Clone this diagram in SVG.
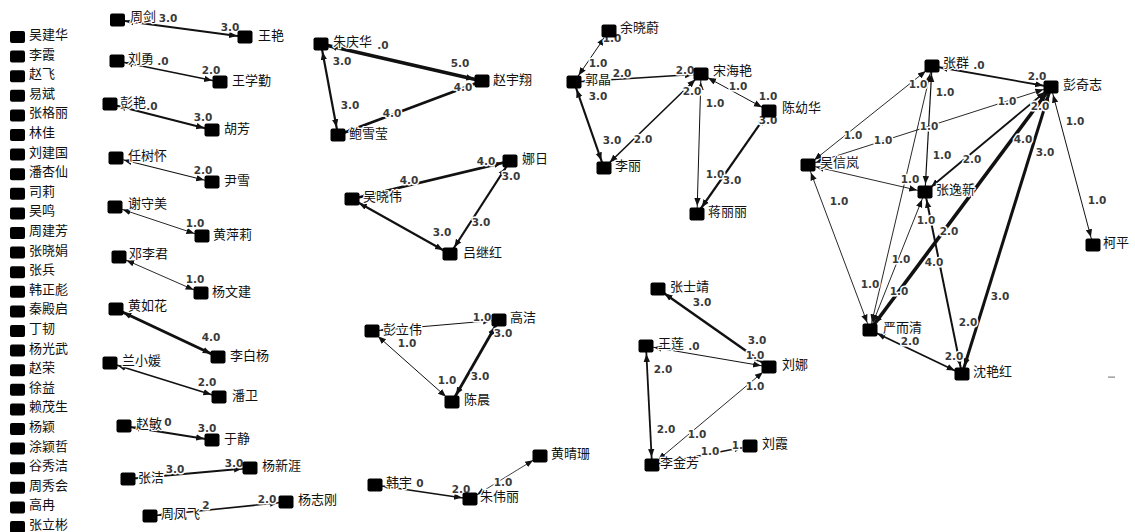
<svg xmlns="http://www.w3.org/2000/svg" width="1135" height="532" viewBox="0 0 1135 532">
<style>
.nd rect{fill:#000}
.nd text,.ls text{font-family:"Noto Sans CJK SC","Noto Sans",sans-serif;font-size:13px;fill:#111;stroke:#fff;stroke-width:2.5;paint-order:stroke;stroke-linejoin:round}
.ls rect{fill:#000}
#edges line{stroke:#111;marker-start:url(#ar);marker-end:url(#ar)}
#elabels text{font-family:"DejaVu Sans",sans-serif;font-weight:bold;font-size:10.5px;fill:#3a3a3a;text-anchor:middle;stroke:#fff;stroke-width:3;paint-order:stroke;stroke-linejoin:round}
</style>
<defs>
<marker id="ar" viewBox="0 0 18 10" refX="16" refY="5" markerWidth="18" markerHeight="10" markerUnits="userSpaceOnUse" orient="auto-start-reverse">
<path d="M0,1.8 L8,5 L0,8.2 z" fill="#111"/>
</marker>
</defs>
<rect width="1135" height="532" fill="#fff"/>
<g id="isolated" class="ls">
<rect x="10" y="31" width="15" height="12" rx="2"/><text x="29" y="39">吴建华</text>
<rect x="10" y="50.6" width="15" height="12" rx="2"/><text x="29" y="58.6">李霞</text>
<rect x="10" y="70.2" width="15" height="12" rx="2"/><text x="29" y="78.2">赵飞</text>
<rect x="10" y="89.8" width="15" height="12" rx="2"/><text x="29" y="97.8">易斌</text>
<rect x="10" y="109.4" width="15" height="12" rx="2"/><text x="29" y="117.4">张格丽</text>
<rect x="10" y="129" width="15" height="12" rx="2"/><text x="29" y="137">林佳</text>
<rect x="10" y="148.6" width="15" height="12" rx="2"/><text x="29" y="156.6">刘建国</text>
<rect x="10" y="168.2" width="15" height="12" rx="2"/><text x="29" y="176.2">潘杏仙</text>
<rect x="10" y="187.8" width="15" height="12" rx="2"/><text x="29" y="195.8">司莉</text>
<rect x="10" y="207.4" width="15" height="12" rx="2"/><text x="29" y="215.4">吴鸣</text>
<rect x="10" y="227" width="15" height="12" rx="2"/><text x="29" y="235">周建芳</text>
<rect x="10" y="246.6" width="15" height="12" rx="2"/><text x="29" y="254.6">张晓娟</text>
<rect x="10" y="266.2" width="15" height="12" rx="2"/><text x="29" y="274.2">张兵</text>
<rect x="10" y="285.8" width="15" height="12" rx="2"/><text x="29" y="293.8">韩正彪</text>
<rect x="10" y="305.4" width="15" height="12" rx="2"/><text x="29" y="313.4">秦殿启</text>
<rect x="10" y="325" width="15" height="12" rx="2"/><text x="29" y="333">丁韧</text>
<rect x="10" y="344.6" width="15" height="12" rx="2"/><text x="29" y="352.6">杨光武</text>
<rect x="10" y="364.2" width="15" height="12" rx="2"/><text x="29" y="372.2">赵荣</text>
<rect x="10" y="383.8" width="15" height="12" rx="2"/><text x="29" y="391.8">徐益</text>
<rect x="10" y="403.4" width="15" height="12" rx="2"/><text x="29" y="411.4">赖茂生</text>
<rect x="10" y="423" width="15" height="12" rx="2"/><text x="29" y="431">杨颖</text>
<rect x="10" y="442.6" width="15" height="12" rx="2"/><text x="29" y="450.6">涂颖哲</text>
<rect x="10" y="462.2" width="15" height="12" rx="2"/><text x="29" y="470.2">谷秀洁</text>
<rect x="10" y="481.8" width="15" height="12" rx="2"/><text x="29" y="489.8">周秀会</text>
<rect x="10" y="501.4" width="15" height="12" rx="2"/><text x="29" y="509.4">高冉</text>
<rect x="10" y="521" width="15" height="12" rx="2"/><text x="29" y="529">张立彬</text>
</g>
<g id="edges">
<line x1="117.5" y1="20" x2="245" y2="37" stroke-width="2.2"/>
<line x1="117" y1="61" x2="220" y2="82" stroke-width="1.6"/>
<line x1="110" y1="104" x2="212" y2="130" stroke-width="2.2"/>
<line x1="116" y1="158" x2="212" y2="182" stroke-width="1.2"/>
<line x1="115" y1="207" x2="202" y2="236" stroke-width="0.9"/>
<line x1="119" y1="257" x2="201" y2="293" stroke-width="0.9"/>
<line x1="116" y1="309" x2="218" y2="357" stroke-width="3"/>
<line x1="110" y1="363" x2="219" y2="397" stroke-width="1.6"/>
<line x1="124" y1="426" x2="212" y2="440" stroke-width="2.2"/>
<line x1="128" y1="479" x2="250" y2="468" stroke-width="2.2"/>
<line x1="150" y1="516" x2="286" y2="502" stroke-width="1.6"/>
<line x1="321" y1="44" x2="482" y2="81" stroke-width="3.6"/>
<line x1="321" y1="44" x2="338" y2="135" stroke-width="2.2"/>
<line x1="338" y1="135" x2="482" y2="81" stroke-width="2.8"/>
<line x1="352" y1="199" x2="510" y2="161" stroke-width="2.8"/>
<line x1="510" y1="161" x2="450" y2="254" stroke-width="2.2"/>
<line x1="352" y1="199" x2="450" y2="254" stroke-width="2.2"/>
<line x1="372" y1="331" x2="499" y2="320" stroke-width="1"/>
<line x1="372" y1="331" x2="452" y2="402" stroke-width="1"/>
<line x1="499" y1="320" x2="452" y2="402" stroke-width="2.8"/>
<line x1="375" y1="485" x2="470" y2="499" stroke-width="1.6"/>
<line x1="470" y1="499" x2="540" y2="456" stroke-width="0.8"/>
<line x1="609" y1="31" x2="574" y2="82" stroke-width="1"/>
<line x1="574" y1="82" x2="701" y2="74" stroke-width="1.6"/>
<line x1="574" y1="82" x2="604" y2="168" stroke-width="2.2"/>
<line x1="604" y1="168" x2="701" y2="74" stroke-width="1.6"/>
<line x1="701" y1="74" x2="769" y2="111" stroke-width="1"/>
<line x1="701" y1="74" x2="697" y2="214" stroke-width="1"/>
<line x1="769" y1="111" x2="697" y2="214" stroke-width="2.2"/>
<line x1="658" y1="289" x2="769" y2="367" stroke-width="2.5"/>
<line x1="646" y1="346" x2="769" y2="367" stroke-width="1"/>
<line x1="652" y1="465" x2="769" y2="367" stroke-width="0.9"/>
<line x1="646" y1="346" x2="652" y2="465" stroke-width="1.8"/>
<line x1="652" y1="465" x2="750" y2="446" stroke-width="1.3"/>
<line x1="932" y1="66" x2="1051" y2="87" stroke-width="1.8"/>
<line x1="808" y1="165" x2="932" y2="66" stroke-width="0.9"/>
<line x1="808" y1="165" x2="1051" y2="87" stroke-width="0.9"/>
<line x1="808" y1="165" x2="925" y2="192" stroke-width="0.9"/>
<line x1="808" y1="165" x2="870" y2="330" stroke-width="0.9"/>
<line x1="932" y1="66" x2="925" y2="192" stroke-width="1.2"/>
<line x1="870" y1="330" x2="932" y2="66" stroke-width="0.9"/>
<line x1="870" y1="330" x2="925" y2="192" stroke-width="0.9"/>
<line x1="870" y1="330" x2="1051" y2="87" stroke-width="3.6"/>
<line x1="925" y1="192" x2="1051" y2="87" stroke-width="1.8"/>
<line x1="962" y1="374" x2="925" y2="192" stroke-width="2"/>
<line x1="962" y1="374" x2="1051" y2="87" stroke-width="3"/>
<line x1="870" y1="330" x2="962" y2="374" stroke-width="1.8"/>
<line x1="1051" y1="87" x2="1093" y2="245" stroke-width="1"/>
</g>
<g id="elabels">
<text x="168" y="22">3.0</text>
<text x="230" y="31">3.0</text>
<text x="163" y="65">.0</text>
<text x="211" y="74">2.0</text>
<text x="152" y="110">.0</text>
<text x="203" y="121">3.0</text>
<text x="203" y="174">2.0</text>
<text x="195" y="227">1.0</text>
<text x="195" y="283">1.0</text>
<text x="211" y="341">4.0</text>
<text x="207" y="386">2.0</text>
<text x="168" y="426">0</text>
<text x="207" y="432">3.0</text>
<text x="175" y="473">3.0</text>
<text x="234" y="467">3.0</text>
<text x="206" y="509">2</text>
<text x="267" y="503">2.0</text>
<text x="383" y="49">.0</text>
<text x="342" y="65">3.0</text>
<text x="460" y="67">5.0</text>
<text x="463" y="91">4.0</text>
<text x="350" y="109">3.0</text>
<text x="392" y="117">4.0</text>
<text x="486" y="165">4.0</text>
<text x="511" y="180">3.0</text>
<text x="409" y="184">4.0</text>
<text x="442" y="236">3.0</text>
<text x="481" y="226">3.0</text>
<text x="407" y="347">1.0</text>
<text x="482" y="321">1.0</text>
<text x="503" y="337">3.0</text>
<text x="447" y="384">1.0</text>
<text x="480" y="380">3.0</text>
<text x="420" y="487">0</text>
<text x="461" y="493">2.0</text>
<text x="503" y="486">1.0</text>
<text x="612" y="42">1.0</text>
<text x="598" y="67">1.0</text>
<text x="598" y="100">3.0</text>
<text x="622" y="77">2.0</text>
<text x="685" y="74">2.0</text>
<text x="692" y="95">2.0</text>
<text x="738" y="90">1.0</text>
<text x="768" y="100">1.0</text>
<text x="768" y="124">3.0</text>
<text x="612" y="144">3.0</text>
<text x="643" y="143">2.0</text>
<text x="715" y="178">1.0</text>
<text x="732" y="184">3.0</text>
<text x="715" y="107">1.0</text>
<text x="702" y="306">3.0</text>
<text x="694" y="350">.0</text>
<text x="663" y="373">2.0</text>
<text x="757" y="344">3.0</text>
<text x="755" y="359">1.0</text>
<text x="755" y="390">1.0</text>
<text x="666" y="433">2.0</text>
<text x="697" y="438">1.0</text>
<text x="710" y="455">1.0</text>
<text x="741" y="449">1.0</text>
<text x="979" y="69">.0</text>
<text x="1037" y="80">2.0</text>
<text x="918" y="88">1.0</text>
<text x="945" y="96">1.0</text>
<text x="853" y="139">1.0</text>
<text x="883" y="144">1.0</text>
<text x="929" y="130">1.0</text>
<text x="942" y="159">1.0</text>
<text x="972" y="163">2.0</text>
<text x="1007" y="105">1.0</text>
<text x="1040" y="110">2.0</text>
<text x="1075" y="125">1.0</text>
<text x="1023" y="143">4.0</text>
<text x="1045" y="156">3.0</text>
<text x="1097" y="204">1.0</text>
<text x="910" y="183">1.0</text>
<text x="839" y="205">1.0</text>
<text x="926" y="224">1.0</text>
<text x="949" y="235">2.0</text>
<text x="870" y="288">1.0</text>
<text x="899" y="295">1.0</text>
<text x="901" y="263">1.0</text>
<text x="934" y="266">4.0</text>
<text x="1000" y="300">3.0</text>
<text x="968" y="326">2.0</text>
<text x="954" y="360">2.0</text>
<text x="910" y="345">2.0</text>
</g>
<g id="n1" class="nd"><rect x="110" y="13.5" width="15" height="13" rx="2"/><text x="130" y="21">周剑</text></g>
<g id="n2" class="nd"><rect x="237.5" y="30.5" width="15" height="13" rx="2"/><text x="258" y="40">王艳</text></g>
<g id="n3" class="nd"><rect x="109.5" y="54.5" width="15" height="13" rx="2"/><text x="128" y="63">刘勇</text></g>
<g id="n4" class="nd"><rect x="212.5" y="75.5" width="15" height="13" rx="2"/><text x="232" y="85">王学勤</text></g>
<g id="n5" class="nd"><rect x="102.5" y="97.5" width="15" height="13" rx="2"/><text x="120" y="107">彭艳</text></g>
<g id="n6" class="nd"><rect x="204.5" y="123.5" width="15" height="13" rx="2"/><text x="224" y="133">胡芳</text></g>
<g id="n7" class="nd"><rect x="108.5" y="151.5" width="15" height="13" rx="2"/><text x="128" y="160">任树怀</text></g>
<g id="n8" class="nd"><rect x="204.5" y="175.5" width="15" height="13" rx="2"/><text x="224" y="185">尹雪</text></g>
<g id="n9" class="nd"><rect x="107.5" y="200.5" width="15" height="13" rx="2"/><text x="128" y="208">谢守美</text></g>
<g id="n10" class="nd"><rect x="194.5" y="229.5" width="15" height="13" rx="2"/><text x="213" y="239">黄萍莉</text></g>
<g id="n11" class="nd"><rect x="111.5" y="250.5" width="15" height="13" rx="2"/><text x="129" y="258">邓李君</text></g>
<g id="n12" class="nd"><rect x="193.5" y="286.5" width="15" height="13" rx="2"/><text x="212" y="296">杨文建</text></g>
<g id="n13" class="nd"><rect x="108.5" y="302.5" width="15" height="13" rx="2"/><text x="128" y="310">黄如花</text></g>
<g id="n14" class="nd"><rect x="210.5" y="350.5" width="15" height="13" rx="2"/><text x="230" y="360">李白杨</text></g>
<g id="n15" class="nd"><rect x="102.5" y="356.5" width="15" height="13" rx="2"/><text x="122" y="365">兰小媛</text></g>
<g id="n16" class="nd"><rect x="211.5" y="390.5" width="15" height="13" rx="2"/><text x="232" y="400">潘卫</text></g>
<g id="n17" class="nd"><rect x="116.5" y="419.5" width="15" height="13" rx="2"/><text x="136" y="428">赵敏</text></g>
<g id="n18" class="nd"><rect x="204.5" y="433.5" width="15" height="13" rx="2"/><text x="224" y="443">于静</text></g>
<g id="n19" class="nd"><rect x="120.5" y="472.5" width="15" height="13" rx="2"/><text x="138" y="482">张洁</text></g>
<g id="n20" class="nd"><rect x="242.5" y="461.5" width="15" height="13" rx="2"/><text x="262" y="470">杨新涯</text></g>
<g id="n21" class="nd"><rect x="142.5" y="509.5" width="15" height="13" rx="2"/><text x="161" y="518">周凤飞</text></g>
<g id="n22" class="nd"><rect x="278.5" y="495.5" width="15" height="13" rx="2"/><text x="298" y="504">杨志刚</text></g>
<g id="n23" class="nd"><rect x="313.5" y="37.5" width="15" height="13" rx="2"/><text x="333" y="46">朱庆华</text></g>
<g id="n24" class="nd"><rect x="474.5" y="74.5" width="15" height="13" rx="2"/><text x="493" y="84">赵宇翔</text></g>
<g id="n25" class="nd"><rect x="330.5" y="128.5" width="15" height="13" rx="2"/><text x="349" y="138">鲍雪莹</text></g>
<g id="n26" class="nd"><rect x="502.5" y="154.5" width="15" height="13" rx="2"/><text x="522" y="163">娜日</text></g>
<g id="n27" class="nd"><rect x="344.5" y="192.5" width="15" height="13" rx="2"/><text x="363" y="201">吴晓伟</text></g>
<g id="n28" class="nd"><rect x="442.5" y="247.5" width="15" height="13" rx="2"/><text x="463" y="257">吕继红</text></g>
<g id="n29" class="nd"><rect x="364.5" y="324.5" width="15" height="13" rx="2"/><text x="383" y="334">彭立伟</text></g>
<g id="n30" class="nd"><rect x="491.5" y="313.5" width="15" height="13" rx="2"/><text x="510" y="322">高洁</text></g>
<g id="n31" class="nd"><rect x="444.5" y="395.5" width="15" height="13" rx="2"/><text x="464" y="404">陈晨</text></g>
<g id="n32" class="nd"><rect x="367.5" y="478.5" width="15" height="13" rx="2"/><text x="386" y="487">韩宇</text></g>
<g id="n33" class="nd"><rect x="462.5" y="492.5" width="15" height="13" rx="2"/><text x="480" y="501">朱伟丽</text></g>
<g id="n34" class="nd"><rect x="532.5" y="449.5" width="15" height="13" rx="2"/><text x="551" y="458">黄晴珊</text></g>
<g id="n35" class="nd"><rect x="601.5" y="24.5" width="15" height="13" rx="2"/><text x="620" y="32">余晓蔚</text></g>
<g id="n36" class="nd"><rect x="566.5" y="75.5" width="15" height="13" rx="2"/><text x="585" y="84">郭晶</text></g>
<g id="n37" class="nd"><rect x="693.5" y="67.5" width="15" height="13" rx="2"/><text x="713" y="75">宋海艳</text></g>
<g id="n38" class="nd"><rect x="761.5" y="104.5" width="15" height="13" rx="2"/><text x="782" y="112">陈幼华</text></g>
<g id="n39" class="nd"><rect x="596.5" y="161.5" width="15" height="13" rx="2"/><text x="615" y="170">李丽</text></g>
<g id="n40" class="nd"><rect x="689.5" y="207.5" width="15" height="13" rx="2"/><text x="708" y="216">蒋丽丽</text></g>
<g id="n41" class="nd"><rect x="650.5" y="282.5" width="15" height="13" rx="2"/><text x="670" y="291">张士靖</text></g>
<g id="n42" class="nd"><rect x="638.5" y="339.5" width="15" height="13" rx="2"/><text x="658" y="348">王莲</text></g>
<g id="n43" class="nd"><rect x="761.5" y="360.5" width="15" height="13" rx="2"/><text x="782" y="369">刘娜</text></g>
<g id="n44" class="nd"><rect x="644.5" y="458.5" width="15" height="13" rx="2"/><text x="660" y="467">李金芳</text></g>
<g id="n45" class="nd"><rect x="742.5" y="439.5" width="15" height="13" rx="2"/><text x="762" y="448">刘霞</text></g>
<g id="n46" class="nd"><rect x="924.5" y="59.5" width="15" height="13" rx="2"/><text x="943" y="67">张群</text></g>
<g id="n47" class="nd"><rect x="1043.5" y="80.5" width="15" height="13" rx="2"/><text x="1063" y="89">彭奇志</text></g>
<g id="n48" class="nd"><rect x="800.5" y="158.5" width="15" height="13" rx="2"/><text x="820" y="167">吴信岚</text></g>
<g id="n49" class="nd"><rect x="917.5" y="185.5" width="15" height="13" rx="2"/><text x="936" y="194">张逸新</text></g>
<g id="n50" class="nd"><rect x="1085.5" y="238.5" width="15" height="13" rx="2"/><text x="1103" y="247">柯平</text></g>
<g id="n51" class="nd"><rect x="862.5" y="323.5" width="15" height="13" rx="2"/><text x="883" y="332">严而清</text></g>
<g id="n52" class="nd"><rect x="954.5" y="367.5" width="15" height="13" rx="2"/><text x="973" y="376">沈艳红</text></g>
<rect x="1108" y="376.5" width="7" height="1.2" fill="#888"/>
</svg>
